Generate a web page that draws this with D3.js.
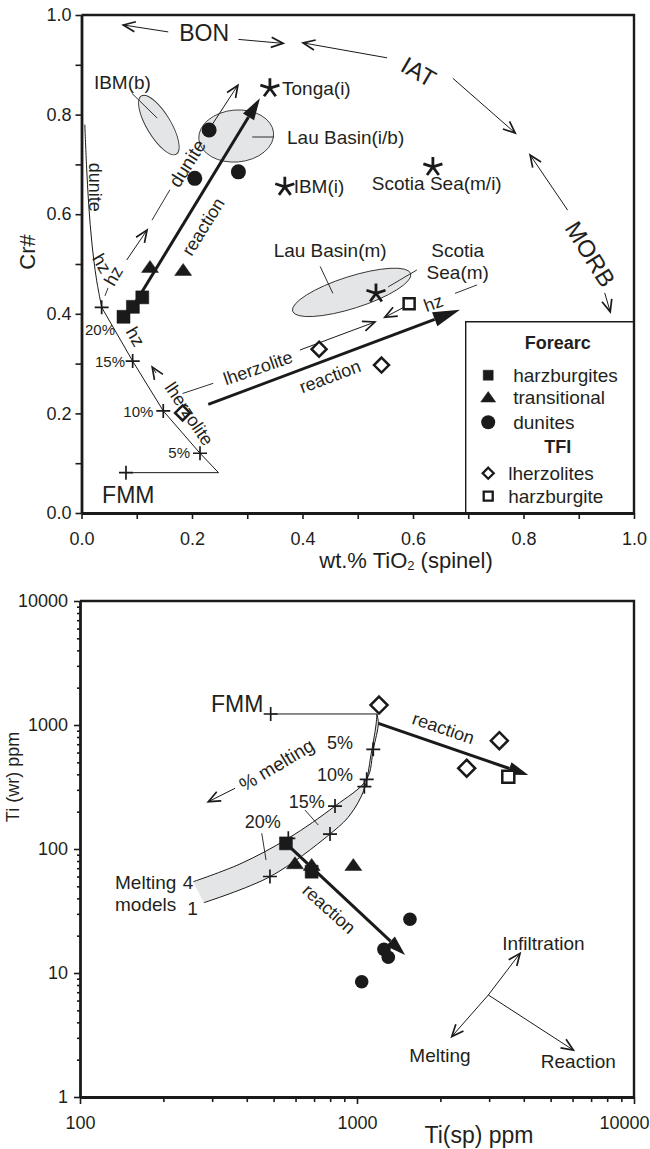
<!DOCTYPE html>
<html>
<head>
<meta charset="utf-8">
<script src="https://cdn.jsdelivr.net/npm/d3@7"></script>
<style>
  body { margin: 0; background: #fff; }
  text { font-family: "Liberation Sans", Arial, Helvetica, sans-serif; }
</style>
</head>
<body>
<svg id="chart" width="650" height="1149"></svg>
<script>
// ---------- upper panel: Cr# vs wt.% TiO2 (spinel) ----------
const harzA = [[0.076, 0.394], [0.093, 0.414], [0.110, 0.433]];
const transA = [[0.124, 0.494], [0.184, 0.488]];
const dunA = [[0.205, 0.672], [0.231, 0.769], [0.284, 0.685]];
const lherzTfiA = [[0.183, 0.201], [0.430, 0.329], [0.543, 0.297]];
const harzTfiA = [[0.593, 0.420]];
const arcStarsA = [[0.341, 0.853], [0.368, 0.655], [0.636, 0.695], [0.533, 0.441]];
// melting path from FMM: 5%, 10%, 15%, 20% then up to dunite
const meltA = [[0.0805, 0.081], [0.248, 0.081], [0.2145, 0.120], [0.148, 0.205], [0.0926, 0.305], [0.0365, 0.413]];
const duniteCurveA = [[0.0365, 0.413], [0.027, 0.47], [0.019, 0.54], [0.013, 0.62], [0.009, 0.70], [0.006, 0.78]];
const meltStepsA = [[0.0805, 0.081], [0.2145, 0.120], [0.148, 0.205], [0.0926, 0.305], [0.0365, 0.413]];
// shaded fields: centre, semi-axes (x units / y units), tilt
const fieldCx = [0.140, 0.280, 0.489];
const fieldCy = [0.779, 0.757, 0.443];
const fieldA = [0.0615, 0.0679, 0.1122];
const fieldB = [0.0241, 0.0522, 0.032];
const fieldTilt = [59, -5, -17.7];
// tectonic setting arrows (tail -> tip)
const settingArrowsA = [
  [0.157, 0.966, 0.0756, 0.980], [0.284, 0.951, 0.365, 0.943],
  [0.553, 0.914, 0.401, 0.944], [0.672, 0.873, 0.785, 0.763],
  [0.880, 0.608, 0.812, 0.719], [0.947, 0.442, 0.957, 0.404]
];
const thinArrowsA = [
  [0.0818, 0.508, 0.1186, 0.568], [0.236, 0.779, 0.283, 0.859],
  [0.135, 0.281, 0.128, 0.293], [0.3954, 0.3273, 0.531, 0.3835],
  [0.585, 0.414, 0.549, 0.393]
];
const thinLinesA = [
  [0.0425, 0.436, 0.048, 0.452], [0.1276, 0.588, 0.160, 0.649],
  [0.183, 0.240, 0.2385, 0.2604], [0.676, 0.441, 0.716, 0.458],
  [0.091, 0.843, 0.137, 0.793], [0.309, 0.755, 0.348, 0.755],
  [0.432, 0.495, 0.455, 0.441], [0.607, 0.488, 0.555, 0.454]
];
const thickArrowsA = [[0.093, 0.414, 0.323, 0.833], [0.2295, 0.218, 0.685, 0.408]];
const labelsA = [
  ['BON', 0.222, 0.963, 0, 'middle', 23], ['IAT', 0.610, 0.886, 30, 'middle', 24],
  ['MORB', 0.921, 0.520, 58, 'middle', 24],
  ['IBM(b)', 0.074, 0.865, 0, 'middle', 19], ['Tonga(i)', 0.363, 0.853, 0, 'start', 19],
  ['Lau Basin(i/b)', 0.372, 0.755, 0, 'start', 19], ['IBM(i)', 0.384, 0.655, 0, 'start', 19],
  ['Scotia Sea(m/i)', 0.643, 0.662, 0, 'middle', 19], ['Lau Basin(m)', 0.450, 0.528, 0, 'middle', 19],
  ['Scotia', 0.681, 0.528, 0, 'middle', 19], ['Sea(m)', 0.681, 0.482, 0, 'middle', 19],
  ['dunite', 0.0244, 0.654, 90, 'middle', 18], ['dunite', 0.1915, 0.702, -58, 'middle', 19],
  ['reaction', 0.2205, 0.575, -58, 'middle', 18], ['hz', 0.0366, 0.501, 60, 'middle', 18],
  ['hz', 0.058, 0.476, -60, 'middle', 18], ['hz', 0.097, 0.354, 60, 'middle', 18],
  ['lherzolite', 0.1946, 0.199, 56, 'middle', 18], ['lherzolite', 0.3195, 0.291, -19, 'middle', 18],
  ['reaction', 0.4498, 0.2737, -20.5, 'middle', 18], ['hz', 0.637, 0.421, -20, 'middle', 18],
  ['20%', 0.0335, 0.3675, 0, 'middle', 15], ['15%', 0.0787, 0.305, 0, 'end', 15],
  ['10%', 0.130, 0.2048, 0, 'end', 15], ['5%', 0.1964, 0.1205, 0, 'end', 15],
  ['FMM', 0.0847, 0.036, 0, 'middle', 23]
];

// ---------- lower panel: Ti (wr) vs Ti (sp), ppm ----------
const harzB = [[554, 111], [686, 65.6]];
const transB = [[597, 76.7], [686, 74.3], [970, 74.3]];
const dunB = [[1553, 27.1], [1251, 15.5], [1297, 13.4], [1040, 8.5]];
const lherzTfiB = [[1201, 1449], [3265, 747], [2489, 448]];
const harzTfiB = [[3517, 383]];
const fmmB = [[488, 1227], [1180, 1227]];
const model4B = [[256.5, 54.5], [378, 75.7], [565, 122], [833, 222], [1084, 365], [1145, 637], [1194, 1032], [1180, 1227]];
const model1B = [[280, 36.9], [485, 59.8], [799, 132], [943, 188], [1063, 305], [1123, 573], [1171, 1000], [1180, 1227]];
const meltStepsB = [[488, 1227], [1145, 637], [1084, 365], [1063, 318], [833, 222], [799, 132], [565, 122], [485, 60]];
const thickArrowsB = [[1194, 1032, 4153, 395], [554, 111, 1491, 14.0]];
const vectorCentre = [2979, 6.65];
const vectorTips = [[3877, 14.4], [2198, 3.07], [6039, 2.39]];
const thinArrowsB = [[363, 309, 290.5, 240.6]];
const thinLinesB = [[649, 206, 725, 156], [453, 134, 469.5, 81.5]];
const labelsB = [
  ['FMM', 458.9, 1476, 0, 'end', 23], ['reaction', 2049, 940, 19, 'middle', 18],
  ['reaction', 792, 32.8, 42, 'middle', 18], ['% melting', 513, 476, -31, 'middle', 19],
  ['5%', 868, 712, 0, 'middle', 18], ['10%', 833, 395, 0, 'middle', 18],
  ['15%', 658, 241, 0, 'middle', 18], ['20%', 456.6, 166, 0, 'middle', 18],
  ['Melting', 133.8, 53.2, 0, 'start', 19], ['models', 133.8, 35.4, 0, 'start', 19],
  ['4', 245.5, 53.2, 0, 'middle', 19], ['1', 255, 33.4, 0, 'middle', 19],
  ['Infiltration', 4706, 17.4, 0, 'middle', 19], ['Melting', 1993, 2.18, 0, 'middle', 19],
  ['Reaction', 6295, 1.93, 0, 'middle', 19]
];

const INK = '#1a1a1a';
const TXT = '#231f20';
const svg = d3.select('#chart');

const xA = d3.scaleLinear().domain([0, 1]).range([81.5, 634]);
const yA = d3.scaleLinear().domain([0, 1]).range([513, 15]);
const xB = d3.scaleLog().domain([100, 10000]).range([80, 634]);
const yB = d3.scaleLog().domain([1, 10000]).range([1097, 601]);

function shape(kind, s) {
  const h = s / 2;
  if (kind === 'square') return `M${-h},${-h}H${h}V${h}H${-h}Z`;
  if (kind === 'triangle') return `M0,${-s * 0.38}L${h},${s * 0.32}L${-h},${s * 0.32}Z`;
  if (kind === 'diamond') return `M0,${-h}L${h},0L0,${h}L${-h},0Z`;
  if (kind === 'cross') return `M${-h},0H${h}M0,${-h}V${h}`;
  if (kind === 'star') {
    return d3.range(5).map(i => {
      const a = (-90 + i * 72) * Math.PI / 180;
      return `M0,0L${h * Math.cos(a)},${h * Math.sin(a)}`;
    }).join('');
  }
}

function marks(g, pts, x, y, kind, s, open) {
  g.append('g').selectAll('path').data(pts).join('path')
    .attr('transform', d => `translate(${x(d[0])},${y(d[1])})`)
    .attr('d', shape(kind, s))
    .attr('fill', open ? '#fff' : INK)
    .attr('stroke', INK)
    .attr('stroke-width', open ? 2.5 : 0.5);
}

function stars(g, pts, x, y, s) {
  g.append('g').selectAll('path').data(pts).join('path')
    .attr('transform', d => `translate(${x(d[0])},${y(d[1])})`)
    .attr('d', shape('star', s))
    .attr('fill', 'none').attr('stroke', INK).attr('stroke-width', 2.8);
}

function dots(g, pts, x, y, r) {
  g.append('g').selectAll('circle').data(pts).join('circle')
    .attr('cx', d => x(d[0])).attr('cy', d => y(d[1])).attr('r', r).attr('fill', INK);
}

function crosses(g, pts, x, y) {
  g.append('g').selectAll('path').data(pts).join('path')
    .attr('transform', d => `translate(${x(d[0])},${y(d[1])})`)
    .attr('d', shape('cross', 14)).attr('stroke', INK).attr('stroke-width', 1.7).attr('fill', 'none');
}

function arrow(g, x1, y1, x2, y2, opt) {
  const a = Math.atan2(y2 - y1, x2 - x1);
  if (opt.filled) {
    const len = opt.head, hw = opt.headWidth;
    const bx = x2 - len * Math.cos(a), by = y2 - len * Math.sin(a);
    g.append('line').attr('x1', x1).attr('y1', y1).attr('x2', bx).attr('y2', by)
      .attr('stroke', INK).attr('stroke-width', opt.width);
    g.append('path')
      .attr('d', `M${x2},${y2}L${bx + hw * Math.sin(a)},${by - hw * Math.cos(a)}L${bx - hw * Math.sin(a)},${by + hw * Math.cos(a)}Z`)
      .attr('fill', INK);
  } else {
    const len = opt.head || 13, s = 0.4;
    g.append('line').attr('x1', x1).attr('y1', y1).attr('x2', x2).attr('y2', y2)
      .attr('stroke', INK).attr('stroke-width', 1);
    g.append('path')
      .attr('d', `M${x2 - len * Math.cos(a - s)},${y2 - len * Math.sin(a - s)}L${x2},${y2}L${x2 - len * Math.cos(a + s)},${y2 - len * Math.sin(a + s)}`)
      .attr('fill', 'none').attr('stroke', INK).attr('stroke-width', 1.7);
  }
}

function plainLines(g, rows, x, y) {
  g.append('g').selectAll('line').data(rows).join('line')
    .attr('x1', d => x(d[0])).attr('y1', d => y(d[1]))
    .attr('x2', d => x(d[2])).attr('y2', d => y(d[3]))
    .attr('stroke', INK).attr('stroke-width', 0.9);
}

function labels(g, rows, x, y) {
  g.append('g').selectAll('text').data(rows).join('text')
    .attr('transform', d => `translate(${x(d[1])},${y(d[2])}) rotate(${d[3]})`)
    .attr('text-anchor', d => d[4])
    .attr('dominant-baseline', 'central')
    .attr('font-size', d => d[5])
    .attr('fill', TXT)
    .text(d => d[0]);
}

function styleAxis(g) {
  g.select('.domain').attr('stroke', INK).attr('stroke-width', 2.8);
  g.selectAll('.tick line').attr('stroke', INK).attr('stroke-width', 1.6);
  g.selectAll('.tick text').attr('font-size', 18).attr('fill', TXT)
    .attr('font-family', '"Liberation Sans", Arial, sans-serif');
}

// ================= upper panel =================
const gA = svg.append('g');

gA.append('g').selectAll('ellipse').data(fieldCx).join('ellipse')
  .attr('transform', (d, i) => `translate(${xA(d)},${yA(fieldCy[i])}) rotate(${fieldTilt[i]})`)
  .attr('rx', (d, i) => xA(fieldA[i]) - xA(0))
  .attr('ry', (d, i) => yA(0) - yA(fieldB[i]))
  .attr('fill', '#e4e5e6').attr('stroke', '#333').attr('stroke-width', 0.9);

gA.append('path').datum(meltA)
  .attr('d', d3.line().x(d => xA(d[0])).y(d => yA(d[1])))
  .attr('fill', 'none').attr('stroke', INK).attr('stroke-width', 1);
gA.append('path').datum(duniteCurveA)
  .attr('d', d3.line().x(d => xA(d[0])).y(d => yA(d[1])).curve(d3.curveCatmullRom))
  .attr('fill', 'none').attr('stroke', INK).attr('stroke-width', 1);

settingArrowsA.concat(thinArrowsA).forEach(r => arrow(gA, xA(r[0]), yA(r[1]), xA(r[2]), yA(r[3]), {}));
plainLines(gA, thinLinesA, xA, yA);
thickArrowsA.forEach((r, i) => arrow(gA, xA(r[0]), yA(r[1]), xA(r[2]), yA(r[3]),
  {filled: true, width: 3, head: i ? 27 : 22, headWidth: i ? 7.5 : 6.5}));

crosses(gA, meltStepsA, xA, yA);
stars(gA, arcStarsA, xA, yA, 20);
marks(gA, harzA, xA, yA, 'square', 13, false);
marks(gA, transA, xA, yA, 'triangle', 17, false);
dots(gA, dunA, xA, yA, 7.5);
marks(gA, lherzTfiA, xA, yA, 'diamond', 15, true);
marks(gA, harzTfiA, xA, yA, 'square', 11, true);
labels(gA, labelsA, xA, yA);

// axes and frame
const ticksA = d3.range(0, 11).map(i => i / 10);
const fmtA = d => (Math.round(d * 10) % 2 === 0 ? d.toFixed(1) : '');
gA.append('g').attr('transform', `translate(0,${yA(0)})`)
  .call(d3.axisBottom(xA).tickValues(ticksA).tickSize(6).tickSizeOuter(0).tickFormat(fmtA))
  .call(styleAxis)
  .call(g => g.selectAll('.tick text').attr('y', 26).attr('dy', '0.35em'));
gA.append('g').attr('transform', `translate(${xA(0)},0)`)
  .call(d3.axisLeft(yA).tickValues(ticksA).tickSize(6).tickSizeOuter(0).tickPadding(4).tickFormat(fmtA))
  .call(styleAxis);
gA.append('path').attr('d', `M${xA(0)},${yA(1)}H${xA(1)}V${yA(0)}`)
  .attr('fill', 'none').attr('stroke', INK).attr('stroke-width', 2.4);

gA.append('text').attr('transform', `translate(27,252) rotate(-90)`)
  .attr('text-anchor', 'middle').attr('dominant-baseline', 'central')
  .attr('font-size', 22).attr('fill', TXT).text('Cr#');
const xl = gA.append('text').attr('x', 406).attr('y', 560)
  .attr('text-anchor', 'middle').attr('dominant-baseline', 'central')
  .attr('font-size', 22).attr('fill', TXT);
xl.append('tspan').text('wt.% TiO');
xl.append('tspan').attr('font-size', 13).attr('dy', 5).text('2');
xl.append('tspan').attr('dy', -5).text(' (spinel)');

// legend
const lgX = xA(0.6954), lgY = yA(0.3841);
const lg = gA.append('g').attr('transform', `translate(${lgX},${lgY})`);
lg.append('path').attr('d', `M0,${yA(0) - lgY}V0H${xA(1) - lgX}`)
  .attr('fill', 'none').attr('stroke', INK).attr('stroke-width', 1.4);
const legendRows = [
  {label: 'Forearc', y: 21, title: true},
  {label: 'harzburgites', y: 53.5, kind: 'square', s: 10},
  {label: 'transitional', y: 75.5, kind: 'triangle', s: 15},
  {label: 'dunites', y: 100.5, kind: 'circle'},
  {label: 'TFI', y: 125.5, title: true},
  {label: 'lherzolites', y: 151.5, kind: 'diamond', s: 11, open: true},
  {label: 'harzburgite', y: 174.5, kind: 'square', s: 9, open: true}
];
legendRows.forEach(r => {
  if (r.title) {
    lg.append('text').attr('x', 92).attr('y', r.y).attr('text-anchor', 'middle')
      .attr('dominant-baseline', 'central').attr('font-size', 18).attr('font-weight', 'bold')
      .attr('fill', TXT).text(r.label);
    return;
  }
  if (r.kind === 'circle') {
    lg.append('circle').attr('cx', 22.5).attr('cy', r.y).attr('r', 7).attr('fill', INK);
  } else {
    lg.append('path').attr('transform', `translate(22.5,${r.y})`).attr('d', shape(r.kind, r.s))
      .attr('fill', r.open ? '#fff' : INK).attr('stroke', INK).attr('stroke-width', r.open ? 2.3 : 0.5);
  }
  lg.append('text').attr('x', r.open ? 42.5 : 47.5).attr('y', r.y).attr('dominant-baseline', 'central')
    .attr('font-size', 19).attr('fill', TXT).text(r.label);
});

// ================= lower panel =================
const gB = svg.append('g');
const lineB = d3.line().x(d => xB(d[0])).y(d => yB(d[1])).curve(d3.curveCatmullRom.alpha(0.5));
const bandPath = lineB(model4B) + 'L' + lineB(model1B.slice().reverse()).slice(1) + 'Z';
gB.append('path').attr('d', bandPath).attr('fill', '#e4e5e6').attr('stroke', 'none');
[model4B, model1B].forEach(m => gB.append('path').attr('d', lineB(m))
  .attr('fill', 'none').attr('stroke', INK).attr('stroke-width', 1));
gB.append('path').datum(fmmB).attr('d', d3.line().x(d => xB(d[0])).y(d => yB(d[1])))
  .attr('stroke', INK).attr('stroke-width', 1);

plainLines(gB, thinLinesB, xB, yB);
thinArrowsB.forEach(r => arrow(gB, xB(r[0]), yB(r[1]), xB(r[2]), yB(r[3]), {}));
vectorTips.forEach(t => arrow(gB, xB(vectorCentre[0]), yB(vectorCentre[1]), xB(t[0]), yB(t[1]), {}));
thickArrowsB.forEach(r => arrow(gB, xB(r[0]), yB(r[1]), xB(r[2]), yB(r[3]),
  {filled: true, width: 3, head: 20, headWidth: 6.5}));

crosses(gB, meltStepsB, xB, yB);
marks(gB, harzB, xB, yB, 'square', 13, false);
marks(gB, transB, xB, yB, 'triangle', 17, false);
dots(gB, dunB, xB, yB, 6.8);
marks(gB, lherzTfiB, xB, yB, 'diamond', 17, true);
marks(gB, harzTfiB, xB, yB, 'square', 12, true);
labels(gB, labelsB, xB, yB);

const isMajor = d => Math.abs(Math.log10(d) - Math.round(Math.log10(d))) < 1e-9;
const decadeTicks = (lo, hi) => {
  const out = [];
  for (let d = lo; d < hi; d *= 10) for (let k = 1; k < 10; k++) out.push(d * k);
  out.push(hi);
  return out;
};
gB.append('g').attr('transform', `translate(0,${yB(1)})`)
  .call(d3.axisBottom(xB).tickValues(decadeTicks(100, 10000)).tickSize(7).tickSizeOuter(0)
    .tickFormat(d => (isMajor(d) ? d : '')))
  .call(styleAxis)
  .call(g => g.selectAll('.tick line').attr('y2', d => (isMajor(d) ? 7 : 5)))
  .call(g => g.selectAll('.tick text').attr('y', 26).attr('dy', '0.35em'))
  // last label sits at the window edge: keep it inside
  .call(g => g.selectAll('.tick text').filter(d => d === 10000)
    .attr('text-anchor', 'end').attr('x', 15));
gB.append('g').attr('transform', `translate(${xB(100)},0)`)
  .call(d3.axisLeft(yB).tickValues(decadeTicks(1, 10000)).tickSize(6).tickSizeOuter(0).tickPadding(6)
    .tickFormat(d => (isMajor(d) ? d : '')))
  .call(styleAxis)
  .call(g => g.selectAll('.tick line').attr('x2', d => (isMajor(d) ? -6 : -3)));
gB.append('path').attr('d', `M${xB(100)},${yB(10000)}H${xB(10000)}V${yB(1)}`)
  .attr('fill', 'none').attr('stroke', INK).attr('stroke-width', 2.4);

gB.append('text').attr('transform', `translate(13,777) rotate(-90)`)
  .attr('text-anchor', 'middle').attr('dominant-baseline', 'central')
  .attr('font-size', 18).attr('fill', TXT).text('Ti (wr) ppm');
gB.append('text').attr('x', 479).attr('y', 1135)
  .attr('text-anchor', 'middle').attr('dominant-baseline', 'central')
  .attr('font-size', 23).attr('fill', TXT).text('Ti(sp) ppm');
</script>
</body>
</html>
